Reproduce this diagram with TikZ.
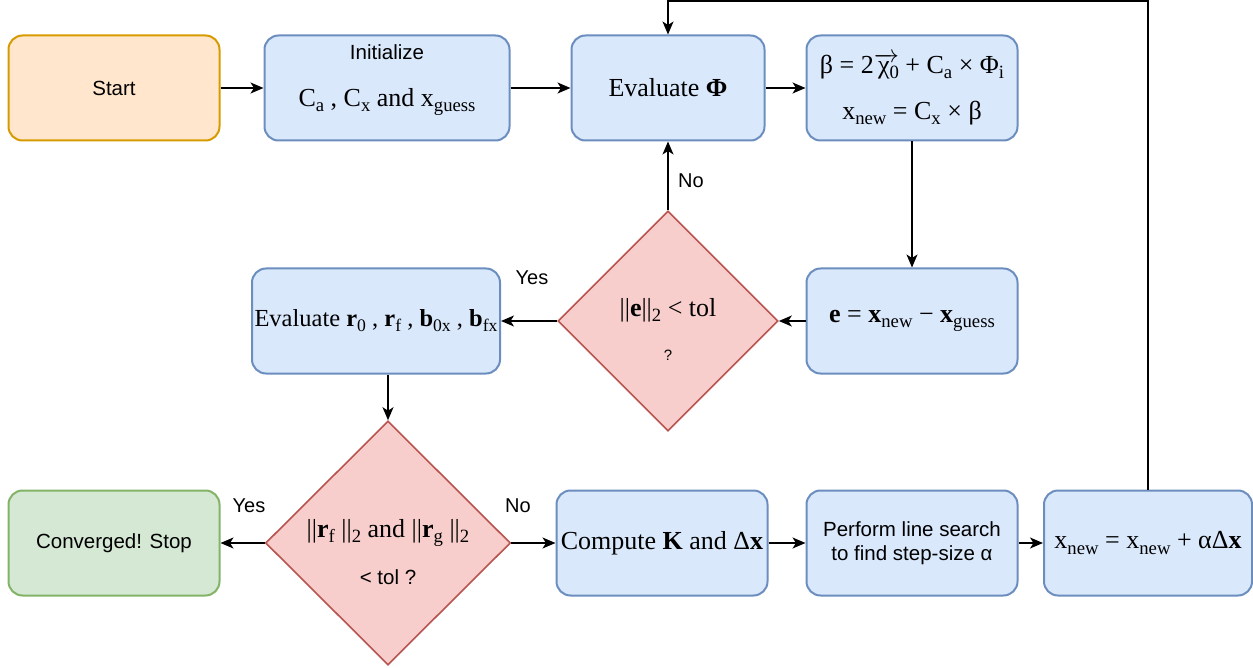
\documentclass[tikz,border=0pt]{standalone}
\usepackage{fontspec}
\usepackage{graphicx}
\setmainfont{Liberation Serif}
\newfontfamily\sansf{Liberation Sans}
\usetikzlibrary{arrows.meta,shapes.geometric}
\newcommand{\sbs}[1]{\raisebox{-0.2em}{\scalebox{0.72}{#1}}}
\definecolor{bluefill}{HTML}{DAE8FC}
\definecolor{bluestroke}{HTML}{6C8EBF}
\definecolor{orangefill}{HTML}{FFE6CC}
\definecolor{orangestroke}{HTML}{D79B00}
\definecolor{greenfill}{HTML}{D5E8D4}
\definecolor{greenstroke}{HTML}{82B366}
\definecolor{redfill}{HTML}{F8CECC}
\definecolor{redstroke}{HTML}{B85450}
\begin{document}
\begin{tikzpicture}[x=1pt,y=-1pt,
  procbox/.style={rectangle, rounded corners=14pt, draw=bluestroke, fill=bluefill,
    line width=2pt, minimum height=105pt, inner sep=0pt, align=center},
  startbox/.style={procbox, draw=orangestroke, fill=orangefill},
  stopbox/.style={procbox, draw=greenstroke, fill=greenfill},
  decision/.style={diamond, draw=redstroke, fill=redfill, line width=1.6pt,
    inner sep=0pt, aspect=1},
  sanstext/.style={font=\sansf\fontsize{20.5}{24}\selectfont, align=center},
  serittext/.style={font=\fontsize{26}{30}\selectfont, align=center},
  lbl/.style={font=\sansf\fontsize{20}{24}\selectfont},
  arr/.style={line width=1.3pt, -{Stealth[length=13pt,width=11pt,inset=3.5pt]}}
]
\useasboundingbox (0,0) rectangle (1253,668);

% boxes
\node[startbox, minimum width=211pt, sanstext] (start) at (114,88) {Start};
\node[procbox, minimum width=245pt] (init) at (387,88) {};
\node[procbox, minimum width=193pt, serittext] (evalphi) at (668,88) {Evaluate \textbf{Φ}};
\node[procbox, minimum width=211pt] (beta) at (912,88) {};
\node[procbox, minimum width=211pt, serittext] (err) at (912,321)
  {\textbf{e} = \textbf{x}\sbs{new} − \textbf{x}\sbs{guess}};
\node[decision, minimum width=220pt, minimum height=220pt] (dec1) at (668,321) {};
\node[procbox, minimum width=248pt, serittext, font=\fontsize{24.5}{28}\selectfont] (evalr) at (376,321)
  {Evaluate \textbf{r}\sbs{0} , \textbf{r}\sbs{f} , \textbf{b}\sbs{0x} , \textbf{b}\sbs{fx}};
\node[decision, minimum width=245pt, minimum height=244pt] (dec2) at (388,543) {};
\node[stopbox, minimum width=211pt, sanstext] (conv) at (114,543) {Converged! Stop};
\node[procbox, minimum width=211pt, serittext] (compk) at (662,543)
  {Compute \textbf{K} and Δ\textbf{x}};
\node[procbox, minimum width=211pt, sanstext] (perf) at (912,543)
  {Perform line search\\to find step-size α};
\node[procbox, minimum width=208pt, serittext] (xnew) at (1148,543)
  {x\sbs{new} = x\sbs{new} + αΔ\textbf{x}};

% texts inside boxes
\node[sanstext] (initA) at (387,52) {Initialize};
\node[serittext] (initB) at (387,102) {C\sbs{a} , C\sbs{x} and x\sbs{guess}};
\node[serittext] (betaA) at (912,66)
  {β = 2$\overrightarrow{\hbox{\,χ\sbs{0}}}$ + C\sbs{a} × Φ\sbs{i}};
\node[serittext] (betaB) at (912,113) {x\sbs{new} = C\sbs{x} × β};
\node[serittext] (dec1A) at (668,310) {||\textbf{e}||\sbs{2} < tol};
\node[font=\sansf\fontsize{15}{18}\selectfont] (dec1B) at (668,355) {?};
\node[serittext] (dec2A) at (388,533)
  {||\textbf{r}\sbs{f} ||\sbs{2} and ||\textbf{r}\sbs{g} ||\sbs{2}};
\node[sanstext] (dec2B) at (388,577) {< tol ?};

% connectors
\draw[arr] (start) -- (init);
\draw[arr] (init) -- (evalphi);
\draw[arr] (evalphi) -- (beta);
\draw[arr] (beta) -- (err);
\draw[arr] (err) -- (dec1);
\draw[arr] (dec1) -- (evalphi);
\draw[arr] (dec1) -- (evalr);
\draw[arr] (dec2.north |- evalr.south) -- (dec2.north);
\draw[arr] (dec2) -- (conv);
\draw[arr] (dec2) -- (compk);
\draw[arr] (compk) -- (perf);
\draw[arr] (perf) -- (xnew);
\coordinate (looptop) at (668,1);
\draw[arr] (xnew.north) |- (looptop) -- (evalphi.north);

% labels
\node[lbl] (no1) at (691,181) {No};
\node[lbl] (yes1) at (532,278) {Yes};
\node[lbl] (yes2) at (249,506) {Yes};
\node[lbl] (no2) at (518,506) {No};
\end{tikzpicture}
\end{document}
